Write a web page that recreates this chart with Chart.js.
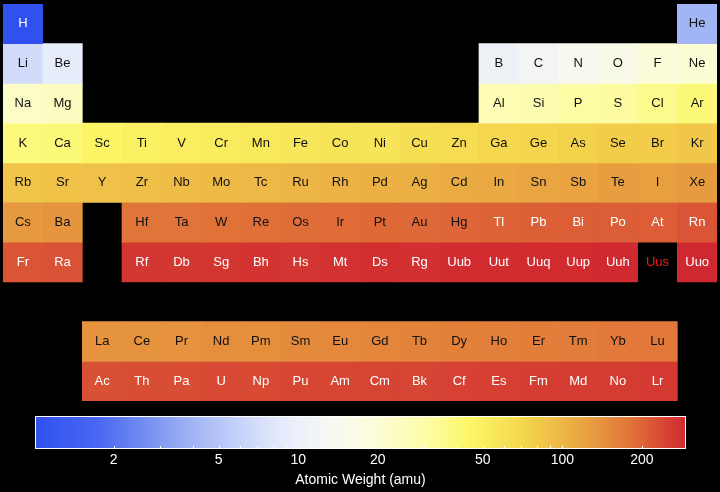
<!DOCTYPE html>
<html>
<head>
<meta charset="utf-8">
<script src="https://cdn.jsdelivr.net/npm/chart.js@4.4.1/dist/chart.umd.min.js"></script>
<style>
    html, body { margin: 0; padding: 0; background: #000; }
    #tableBox { position: relative; width: 720px; height: 405px; }
    #scaleBox { position: relative; width: 720px; height: 87px; }
</style>
</head>
<body>
<div id="tableBox"><canvas id="tableChart"></canvas></div>
<div id="scaleBox"><canvas id="scaleChart"></canvas></div>
<script>
// Element symbols, by atomic number (1..118)
const symbols = [
    'H', 'He',
    'Li', 'Be', 'B', 'C', 'N', 'O', 'F', 'Ne',
    'Na', 'Mg', 'Al', 'Si', 'P', 'S', 'Cl', 'Ar',
    'K', 'Ca', 'Sc', 'Ti', 'V', 'Cr', 'Mn', 'Fe', 'Co', 'Ni', 'Cu', 'Zn', 'Ga', 'Ge', 'As', 'Se', 'Br', 'Kr',
    'Rb', 'Sr', 'Y', 'Zr', 'Nb', 'Mo', 'Tc', 'Ru', 'Rh', 'Pd', 'Ag', 'Cd', 'In', 'Sn', 'Sb', 'Te', 'I', 'Xe',
    'Cs', 'Ba', 'La', 'Ce', 'Pr', 'Nd', 'Pm', 'Sm', 'Eu', 'Gd', 'Tb', 'Dy', 'Ho', 'Er', 'Tm', 'Yb', 'Lu',
    'Hf', 'Ta', 'W', 'Re', 'Os', 'Ir', 'Pt', 'Au', 'Hg', 'Tl', 'Pb', 'Bi', 'Po', 'At', 'Rn',
    'Fr', 'Ra', 'Ac', 'Th', 'Pa', 'U', 'Np', 'Pu', 'Am', 'Cm', 'Bk', 'Cf', 'Es', 'Fm', 'Md', 'No', 'Lr',
    'Rf', 'Db', 'Sg', 'Bh', 'Hs', 'Mt', 'Ds', 'Rg', 'Uub', 'Uut', 'Uuq', 'Uup', 'Uuh', 'Uus', 'Uuo'
];

// Atomic weights (amu), same order; Uus has no value
const weights = [
    1.008, 4.0026,
    6.94, 9.0122, 10.81, 12.011, 14.007, 15.999, 18.998, 20.180,
    22.990, 24.305, 26.982, 28.085, 30.974, 32.06, 35.45, 39.948,
    39.098, 40.078, 44.956, 47.867, 50.942, 51.996, 54.938, 55.845, 58.933, 58.693, 63.546, 65.38, 69.723, 72.63, 74.922, 78.971, 79.904, 83.798,
    85.468, 87.62, 88.906, 91.224, 92.906, 95.95, 98, 101.07, 102.91, 106.42, 107.87, 112.41, 114.82, 118.71, 121.76, 127.60, 126.90, 131.29,
    132.91, 137.33, 138.91, 140.12, 140.91, 144.24, 145, 150.36, 151.96, 157.25, 158.93, 162.50, 164.93, 167.26, 168.93, 173.05, 174.97,
    178.49, 180.95, 183.84, 186.21, 190.23, 192.22, 195.08, 196.97, 200.59, 204.38, 207.2, 208.98, 209, 210, 222,
    223, 226, 227, 232.04, 231.04, 238.03, 237, 244, 243, 247, 247, 251, 252, 257, 258, 259, 262,
    267, 268, 271, 272, 270, 276, 281, 280, 285, 284, 289, 288, 293, null, 294
];

// Table columns (groups) and rows (periods + the two f-block rows)
const groupLabels = ['1', '2', '3', '4', '5', '6', '7', '8', '9', '10', '11', '12', '13', '14', '15', '16', '17', '18'];
const rowNumbers = [1, 2, 3, 4, 5, 6, 7, 9, 10];

// Colour bar tick labels and minor tick marks
const scaleTicks = [2, 5, 10, 20, 50, 100, 200];
const scaleMarks = [2, 3, 4, 5, 6, 7, 8, 9, 10, 20, 30, 40, 50, 60, 70, 80, 90, 100, 200];

document.addEventListener('DOMContentLoaded', function () {
    // Colour map: blue -> white -> yellow -> orange -> red, in log space
    const colorStops = [
        [0.00, '#3050f0'],
        [0.10, '#4a68f0'],
        [0.24, '#a0b4f4'],
        [0.375, '#e4eafc'],
        [0.45, '#f6f8f4'],
        [0.51, '#fcfce0'],
        [0.60, '#fcfca8'],
        [0.665, '#fcf868'],
        [0.755, '#f4d44c'],
        [0.85, '#e8a040'],
        [0.92, '#e07038'],
        [1.00, '#d02830']
    ];

    const valid = weights.filter(w => w !== null);
    const wMin = Math.min(...valid);
    const wMax = Math.max(...valid);

    function hexToRgb(hex) {
        const n = parseInt(hex.slice(1), 16);
        return [(n >> 16) & 255, (n >> 8) & 255, n & 255];
    }

    function colorFor(w) {
        let t = Math.log(w / wMin) / Math.log(wMax / wMin);
        t = Math.min(1, Math.max(0, t));
        for (let i = 1; i < colorStops.length; i++) {
            const [t1, c1] = colorStops[i];
            if (t <= t1) {
                const [t0, c0] = colorStops[i - 1];
                const f = (t - t0) / (t1 - t0);
                const a = hexToRgb(c0), b = hexToRgb(c1);
                const rgb = a.map((v, k) => Math.round(v + (b[k] - v) * f));
                return `rgb(${rgb[0]}, ${rgb[1]}, ${rgb[2]})`;
            }
        }
        return colorStops[colorStops.length - 1][1];
    }

    // Table position of an element from its atomic number
    function cellOf(z) {
        if (z === 1) return { row: 1, col: 1 };
        if (z === 2) return { row: 1, col: 18 };
        if (z <= 10) return { row: 2, col: z <= 4 ? z - 2 : z + 8 };
        if (z <= 18) return { row: 3, col: z <= 12 ? z - 10 : z };
        if (z <= 36) return { row: 4, col: z - 18 };
        if (z <= 54) return { row: 5, col: z - 36 };
        if (z <= 56) return { row: 6, col: z - 54 };
        if (z <= 71) return { row: 9, col: z - 54 };
        if (z <= 86) return { row: 6, col: z - 68 };
        if (z <= 88) return { row: 7, col: z - 86 };
        if (z <= 103) return { row: 10, col: z - 86 };
        return { row: 7, col: z - 100 };
    }

    const cells = symbols.map((s, i) => ({ symbol: s, weight: weights[i], ...cellOf(i + 1) }));

    // One floating-bar dataset per table row
    const datasets = rowNumbers.map(r => {
        const data = groupLabels.map(() => null);
        const fill = groupLabels.map(() => 'rgba(0,0,0,0)');
        cells.filter(c => c.row === r && c.weight !== null).forEach(c => {
            data[c.col - 1] = [r - 0.5, r + 0.5];
            fill[c.col - 1] = colorFor(c.weight);
        });
        return {
            data: data,
            backgroundColor: fill,
            borderWidth: 0,
            grouped: false,
            barPercentage: 1,
            categoryPercentage: 1
        };
    });

    // Element symbols drawn on top of the cells
    const symbolLabels = {
        id: 'symbolLabels',
        afterDatasetsDraw(chart) {
            const { ctx, scales: { x, y } } = chart;
            ctx.save();
            ctx.font = '13px "Liberation Sans", Arial, sans-serif';
            ctx.textAlign = 'center';
            ctx.textBaseline = 'middle';
            cells.forEach(c => {
                if (c.weight === null) {
                    ctx.fillStyle = '#f81818';
                } else if (c.weight > 202 || c.weight < 3) {
                    ctx.fillStyle = '#ffffff';
                } else {
                    ctx.fillStyle = '#111111';
                }
                ctx.fillText(c.symbol, x.getPixelForValue(c.col - 1), y.getPixelForValue(c.row));
            });
            ctx.restore();
        }
    };

    new Chart(document.getElementById('tableChart'), {
        type: 'bar',
        data: {
            labels: groupLabels,
            datasets: datasets
        },
        options: {
            responsive: true,
            maintainAspectRatio: false,
            animation: false,
            layout: { padding: { left: 3, right: 3, top: 4, bottom: 4 } },
            plugins: {
                legend: { display: false },
                tooltip: { enabled: false }
            },
            scales: {
                x: { display: false },
                y: { display: false, min: 0.5, max: 10.5, reverse: true }
            }
        },
        plugins: [symbolLabels]
    });

    // Colour bar
    function barGradient(context) {
        const area = context.chart.chartArea;
        if (!area) return colorStops[0][1];
        const g = context.chart.ctx.createLinearGradient(area.left, 0, area.right, 0);
        colorStops.forEach(([t, c]) => g.addColorStop(t, c));
        return g;
    }

    const tickMarks = {
        id: 'tickMarks',
        afterDatasetsDraw(chart) {
            const { ctx, chartArea, scales: { x } } = chart;
            ctx.save();
            ctx.strokeStyle = '#ffffff';
            ctx.lineWidth = 1;
            ctx.beginPath();
            scaleMarks.forEach(v => {
                const px = Math.round(x.getPixelForValue(v)) + 0.5;
                ctx.moveTo(px, chartArea.bottom);
                ctx.lineTo(px, chartArea.bottom - 3);
            });
            ctx.stroke();
            ctx.restore();
        }
    };

    const labelFont = { family: '"Liberation Sans", Arial, sans-serif', size: 14, lineHeight: 1.2 };

    new Chart(document.getElementById('scaleChart'), {
        type: 'bar',
        data: {
            labels: [''],
            datasets: [{
                data: [[wMin, wMax]],
                backgroundColor: barGradient,
                borderColor: '#ffffff',
                borderWidth: 1,
                borderSkipped: false,
                inflateAmount: 0,
                barPercentage: 1,
                categoryPercentage: 1
            }]
        },
        options: {
            indexAxis: 'y',
            responsive: true,
            maintainAspectRatio: false,
            animation: false,
            layout: { padding: { left: 35, right: 34, top: 11, bottom: 0 } },
            plugins: {
                legend: { display: false },
                tooltip: { enabled: false },
                title: {
                    display: true,
                    position: 'bottom',
                    text: 'Atomic Weight (amu)',
                    color: '#ffffff',
                    font: { ...labelFont, weight: 'normal' },
                    padding: { top: 0, bottom: 3.5 }
                }
            },
            scales: {
                x: {
                    type: 'logarithmic',
                    min: wMin,
                    max: wMax,
                    grid: { display: false, drawTicks: false },
                    border: { display: false },
                    afterBuildTicks: scale => {
                        scale.ticks = scaleTicks.map(v => ({ value: v }));
                    },
                    ticks: {
                        color: '#ffffff',
                        autoSkip: false,
                        maxRotation: 0,
                        padding: 3,
                        font: labelFont,
                        callback: v => String(v)
                    }
                },
                y: { display: false }
            }
        },
        plugins: [tickMarks]
    });
});
</script>
</body>
</html>
